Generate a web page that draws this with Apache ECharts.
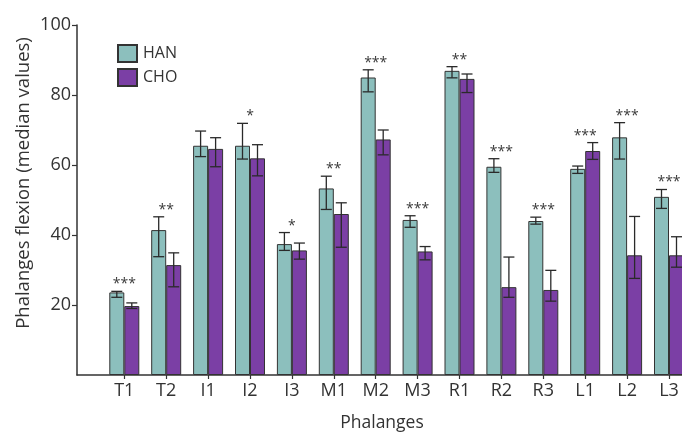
<!DOCTYPE html>
<html>
<head>
<meta charset="utf-8">
<title>Phalanges flexion</title>
<script src="https://cdn.jsdelivr.net/npm/echarts@6/dist/echarts.min.js"></script>
<style>
  html, body { margin: 0; padding: 0; background: #ffffff; }
  #chart { width: 682px; height: 434px; }
</style>
</head>
<body>
<div id="chart"></div>
<script>
// Phalanx categories
const phalanges = ['T1', 'T2', 'I1', 'I2', 'I3', 'M1', 'M2', 'M3', 'R1', 'R2', 'R3', 'L1', 'L2', 'L3'];

// HAN group: median flexion and error range
const hanMedian = [23.6, 41.4, 65.5, 65.5, 37.4, 53.3, 85.0, 44.3, 86.9, 59.5, 44.0, 58.9, 67.9, 50.9];
const hanLow    = [22.2, 33.8, 62.4, 61.7, 35.6, 47.3, 80.9, 42.2, 84.9, 57.9, 43.1, 57.6, 61.7, 47.6];
const hanHigh   = [23.9, 45.2, 69.7, 71.9, 40.7, 56.8, 87.2, 45.5, 88.1, 61.8, 45.1, 59.7, 72.1, 53.0];

// CHO group: median flexion and error range
const choMedian = [19.7, 31.4, 64.6, 61.9, 35.6, 46.0, 67.3, 35.3, 84.6, 25.1, 24.3, 64.0, 34.2, 34.2];
const choLow    = [19.0, 25.2, 59.5, 56.9, 33.1, 36.5, 62.9, 32.9, 80.7, 22.2, 21.1, 61.6, 27.6, 30.8];
const choHigh   = [20.6, 34.9, 67.8, 65.8, 37.7, 49.2, 70.0, 36.7, 86.0, 33.7, 29.9, 66.4, 45.3, 39.5];

// Significance markers per phalanx
const significance = ['***', '**', '', '*', '*', '**', '***', '***', '**', '***', '***', '***', '***', '***'];

// Y axis ticks
const yMin = 0, yMax = 100, yStep = 20;

const HAN_COLOR = '#8cbfbd';
const CHO_COLOR = '#7b3fa5';
const EDGE = '#333333';
const INK = '#2a2a2a';
const FONT = 'Open Sans';
const BAR_W = 15;

const chart = echarts.init(document.getElementById('chart'), null, { renderer: 'canvas' });

function errorBarRenderer(lows, highs, shift) {
  return function (params, api) {
    const i = params.dataIndex;
    const top = api.coord([i, highs[i]]);
    const bot = api.coord([i, lows[i]]);
    const x = top[0] + shift;
    const cap = 5.5;
    const style = { stroke: INK, lineWidth: 1.3 };
    return {
      type: 'group',
      children: [
        { type: 'line', shape: { x1: x, y1: top[1], x2: x, y2: bot[1] }, style: style },
        { type: 'line', shape: { x1: x - cap, y1: top[1], x2: x + cap, y2: top[1] }, style: style },
        { type: 'line', shape: { x1: x - cap, y1: bot[1], x2: x + cap, y2: bot[1] }, style: style }
      ]
    };
  };
}

const starTop = phalanges.map((_, i) => Math.max(hanHigh[i], choHigh[i]));

chart.setOption({
  animation: false,
  backgroundColor: '#ffffff',
  textStyle: { fontFamily: FONT },
  grid: [
    // data area (category bands)
    { left: 103.35, width: 586.6, top: 25, bottom: 59, outerBoundsMode: 'none', containLabel: false },
    // axis frame
    { left: 77, right: 0, top: 25, bottom: 59, outerBoundsMode: 'none', containLabel: false }
  ],
  legend: {
    orient: 'vertical',
    left: 112,
    top: 39,
    itemWidth: 19,
    itemHeight: 17,
    itemGap: 5,
    icon: 'rect',
    textStyle: { fontFamily: FONT, fontSize: 16, color: '#333333', padding: [0, 0, 0, 1] },
    data: ['HAN', 'CHO']
  },
  xAxis: [
    {
      gridIndex: 0,
      type: 'category',
      data: phalanges,
      boundaryGap: true,
      axisLine: { show: false },
      axisTick: { show: true, alignWithLabel: true, length: 4, lineStyle: { color: EDGE, width: 1.2 } },
      axisLabel: { fontFamily: FONT, fontSize: 18, color: '#333333', margin: 7 },
      splitLine: { show: false }
    },
    {
      gridIndex: 1,
      type: 'value',
      min: 0,
      max: 1,
      axisLine: { show: true, onZero: false, lineStyle: { color: EDGE, width: 1.5 } },
      axisTick: { show: false },
      axisLabel: { show: false },
      splitLine: { show: false }
    }
  ],
  yAxis: [
    {
      gridIndex: 0,
      type: 'value',
      min: yMin,
      max: yMax,
      interval: yStep,
      show: false
    },
    {
      gridIndex: 1,
      type: 'value',
      min: yMin,
      max: yMax,
      interval: yStep,
      axisLine: { show: true, lineStyle: { color: EDGE, width: 1.5 } },
      axisTick: { show: true, length: 5, lineStyle: { color: EDGE, width: 1.2 } },
      axisLabel: { fontFamily: FONT, fontSize: 18, color: '#333333', margin: 6, showMinLabel: false },
      splitLine: { show: false }
    }
  ],
  graphic: [
    {
      type: 'text',
      x: 24,
      y: 183,
      rotation: Math.PI / 2,
      style: {
        text: 'Phalanges flexion (median values)',
        fontFamily: FONT,
        fontSize: 18.5,
        fill: '#333333',
        align: 'center',
        verticalAlign: 'middle'
      }
    },
    {
      type: 'text',
      x: 382,
      y: 423,
      style: {
        text: 'Phalanges',
        fontFamily: FONT,
        fontSize: 17.5,
        fill: '#333333',
        align: 'center',
        verticalAlign: 'middle'
      }
    }
  ],
  series: [
    {
      name: 'HAN',
      type: 'bar',
      xAxisIndex: 0,
      yAxisIndex: 0,
      data: hanMedian,
      barWidth: BAR_W,
      barGap: '0%',
      itemStyle: { color: HAN_COLOR, borderColor: EDGE, borderWidth: 1 }
    },
    {
      name: 'CHO',
      type: 'bar',
      xAxisIndex: 0,
      yAxisIndex: 0,
      data: choMedian,
      barWidth: BAR_W,
      barGap: '0%',
      itemStyle: { color: CHO_COLOR, borderColor: EDGE, borderWidth: 1 }
    },
    {
      name: 'HAN range',
      type: 'custom',
      xAxisIndex: 0,
      yAxisIndex: 0,
      data: phalanges.map((_, i) => [i, hanLow[i], hanHigh[i]]),
      encode: { x: 0, y: [1, 2] },
      renderItem: errorBarRenderer(hanLow, hanHigh, -BAR_W / 2),
      z: 5
    },
    {
      name: 'CHO range',
      type: 'custom',
      xAxisIndex: 0,
      yAxisIndex: 0,
      data: phalanges.map((_, i) => [i, choLow[i], choHigh[i]]),
      encode: { x: 0, y: [1, 2] },
      renderItem: errorBarRenderer(choLow, choHigh, BAR_W / 2),
      z: 5
    },
    {
      name: 'significance',
      type: 'custom',
      xAxisIndex: 0,
      yAxisIndex: 0,
      data: phalanges.map((_, i) => [i, starTop[i]]),
      encode: { x: 0, y: 1 },
      renderItem: function (params, api) {
        const i = params.dataIndex;
        const p = api.coord([i, starTop[i]]);
        return {
          type: 'text',
          x: p[0],
          y: p[1] - 7,
          style: {
            text: significance[i],
            fontFamily: FONT,
            fontSize: 14,
            fill: '#3a3a3a',
            align: 'center',
            verticalAlign: 'middle'
          }
        };
      },
      z: 6
    }
  ]
});
</script>
</body>
</html>
